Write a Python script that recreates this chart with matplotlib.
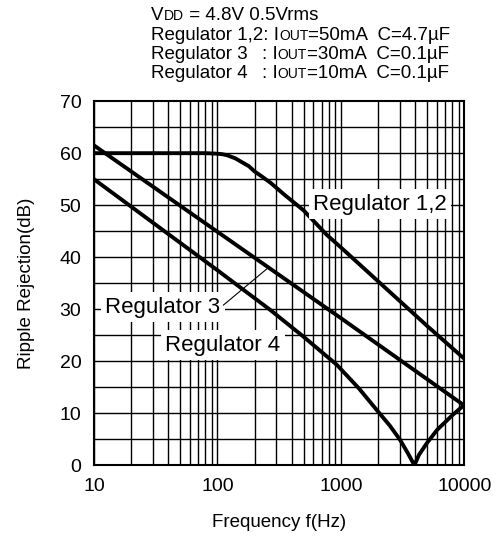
import matplotlib
matplotlib.use('Agg')
import matplotlib.pyplot as plt
from matplotlib.offsetbox import TextArea, HPacker, AnchoredOffsetbox

plt.rcParams['font.family'] = ['Liberation Sans', 'DejaVu Sans']

# curve data
freq12 = [10, 50, 80, 100, 110, 120, 140, 160, 180, 200, 230, 270, 350, 500, 770, 1000, 2000, 5000, 10000]
rr12 = [60, 60, 60, 59.9, 59.8, 59.6, 59.0, 58.2, 57.5, 56.5, 55.5, 54.3, 52.0, 49.0, 44.3, 41.9, 35.4, 26.8, 20.5]

freq3 = [10, 100, 1000, 10000]
rr3 = [61.5, 44.9, 28.3, 11.5]

freq4 = [10, 100, 267, 500, 930, 1400, 1960, 2500, 3020, 3500, 3950, 4300, 5000, 6030, 8000, 10000]
rr4 = [55, 37.5, 29.9, 24.7, 19.3, 14.8, 10.6, 7.6, 4.9, 2.3, 0, 2.0, 4.3, 6.8, 9.6, 11.6]

xticks = [10, 100, 1000, 10000]
xticklabels = ['10', '100', '1000', '10000']
yticks = [0, 10, 20, 30, 40, 50, 60, 70]

fig = plt.figure(figsize=(4.97, 5.41), dpi=100)
ax = fig.add_axes([0.189, 0.140, 0.745, 0.673])

ax.set_xscale('log')
ax.set_xlim(10, 10000)
ax.set_ylim(0, 70)

# grid: every minor decade line and every 5 dB
for d in [10, 100, 1000]:
    for m in range(1, 10):
        ax.axvline(d * m, color='black', lw=1.0, zorder=1)
for v in range(5, 70, 5):
    ax.axhline(v, color='black', lw=1.0, zorder=1)

ax.plot(freq12, rr12, color='black', lw=2.8, zorder=3, solid_joinstyle='round')
ax.plot(freq3, rr3, color='black', lw=2.8, zorder=3)
ax.plot(freq4, rr4, color='black', lw=2.8, zorder=3, solid_joinstyle='round')

box = dict(boxstyle='square,pad=0.2', fc='white', ec='none')
ax.text(597, 49.1, 'Regulator 1,2', fontsize=16, ha='left', va='baseline', bbox=box, zorder=4)
ax.text(12.3, 29.3, 'Regulator 3', fontsize=16, ha='left', va='baseline', bbox=box, zorder=4)
ax.text(37.7, 22.0, 'Regulator 4', fontsize=16, ha='left', va='baseline', bbox=box, zorder=4)
ax.plot([112, 253], [30.8, 37.8], color='black', lw=0.8, zorder=4)

ax.set_xticks(xticks)
ax.set_xticklabels(xticklabels)
ax.set_yticks(yticks)
ax.minorticks_off()
ax.tick_params(length=0, labelsize=14, pad=9)
for s in ax.spines.values():
    s.set_linewidth(1.5)

ax.set_xlabel('Frequency f(Hz)', fontsize=13.5, labelpad=14)
ax.set_ylabel('Ripple Rejection(dB)', fontsize=13.5, labelpad=18)


def header_line(parts, x, y):
    kids = [TextArea(t, textprops=dict(fontsize=s, family=['Liberation Sans', 'DejaVu Sans']))
            for t, s in parts]
    pack = HPacker(children=kids, align='baseline', pad=0, sep=0)
    ab = AnchoredOffsetbox(loc='lower left', child=pack, pad=0, borderpad=0, frameon=False,
                           bbox_to_anchor=(x, y), bbox_transform=fig.transFigure)
    fig.add_artist(ab)


big, small = 13.5, 10
x0 = 151 / 497
x1 = 262 / 497
header_line([('V', big), ('DD', small), (' = 4.8V 0.5Vrms', big)], x0, 1 - 24 / 541)
header_line([('Regulator 1,2: I', big), ('OUT', small), ('=50mA  C=4.7\u00b5F', big)], x0, 1 - 44 / 541)
header_line([('Regulator 3', big)], x0, 1 - 63 / 541)
header_line([(': I', big), ('OUT', small), ('=30mA  C=0.1\u00b5F', big)], x1, 1 - 63 / 541)
header_line([('Regulator 4', big)], x0, 1 - 82 / 541)
header_line([(': I', big), ('OUT', small), ('=10mA  C=0.1\u00b5F', big)], x1, 1 - 82 / 541)

fig.savefig('out.png', dpi=100)
